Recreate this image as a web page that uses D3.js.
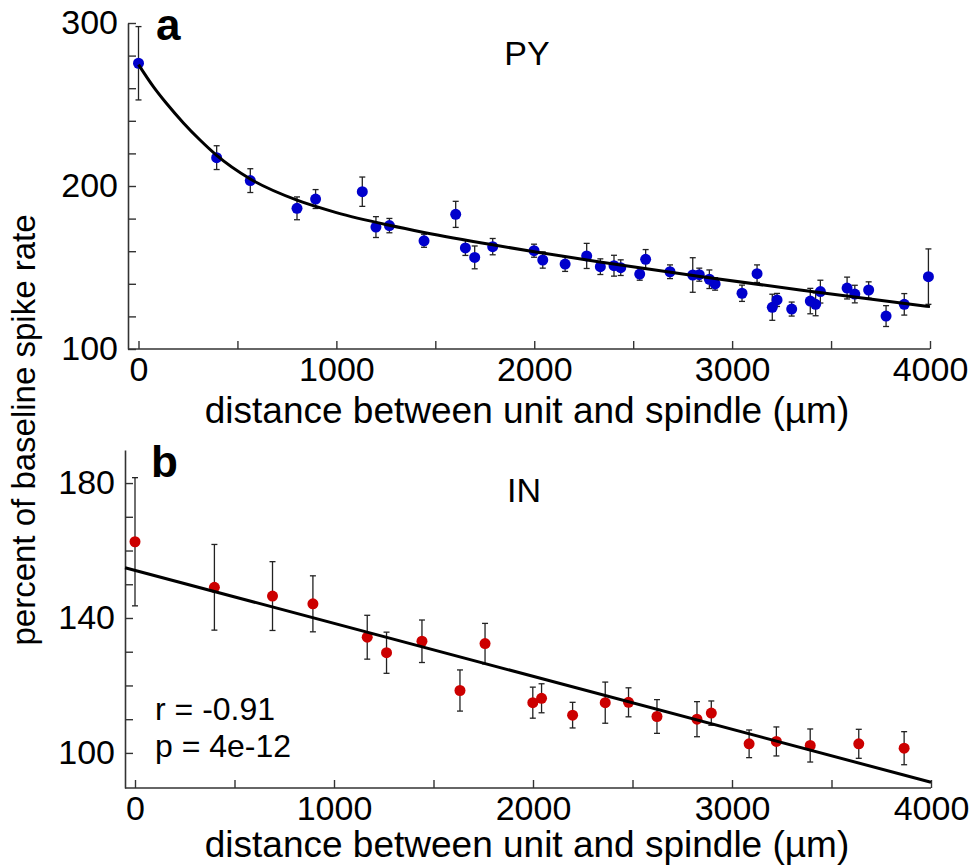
<!DOCTYPE html>
<html>
<head>
<meta charset="utf-8">
<script src="https://cdn.jsdelivr.net/npm/d3@7.9.0/dist/d3.min.js"></script>
<style>
  body { margin: 0; background: #fff; }
  svg { display: block; }
  text { font-family: "Liberation Sans", Arial, sans-serif; fill: #000; }
</style>
</head>
<body>
<svg id="chart" width="976" height="867"></svg>
<script>
// panel a: pyramidal units
const pyDistance = [0, 395, 565, 801, 895, 1131, 1200, 1268, 1443, 1603, 1652, 1699, 1790, 1999, 2043,
  2156, 2265, 2334, 2403, 2437, 2533, 2563, 2686, 2801, 2834, 2885, 2914, 3050, 3126, 3203, 3227,
  3301, 3395, 3422, 3446, 3581, 3620, 3690, 3778, 3870, 3992];
const pyRate = [275.3, 217.4, 203.3, 186.3, 192.0, 196.5, 174.8, 175.7, 166.4, 182.6, 162.0, 156.2, 162.8, 160.3, 154.6,
  152.1, 157.1, 150.5, 151.1, 149.9, 146.0, 155.0, 147.4, 145.4, 145.6, 142.8, 139.9, 134.2, 146.2, 125.6, 130.1,
  124.5, 129.4, 127.4, 135.2, 137.4, 133.7, 136.2, 120.2, 127.4, 144.4];
const pyErr = [22.5, 7.3, 7.3, 7.0, 5.8, 9.0, 6.4, 4.4, 4.0, 8.0, 4.6, 7.0, 5.0, 4.0, 5.0,
  4.5, 7.7, 4.8, 6.4, 4.8, 3.8, 6.0, 4.2, 10.6, 4.0, 5.7, 3.8, 5.0, 5.4, 8.0, 4.0,
  4.3, 7.8, 7.0, 7.0, 6.7, 5.4, 5.0, 6.4, 6.6, 17.0];
// fitted curve
const pyFitDistance = [0, 75, 142, 227, 311, 395, 565, 801, 1000, 1268, 1443, 1790, 2000, 2332, 2838, 3343, 4000];
const pyFitRate = [274.5, 261.0, 250.6, 238.7, 228.2, 218.8, 204.3, 191.3, 183.7, 175.9, 171.5, 163.9, 159.7, 153.4, 144.5, 136.2, 126.0];

// panel b: interneurons
const inDistance = [0, 399, 691, 894, 1167, 1264, 1442, 1633, 1759, 1999, 2043, 2199, 2363, 2480, 2623,
  2824, 2896, 3086, 3223, 3393, 3637, 3865];
const inRate = [162.6, 149.1, 146.5, 144.2, 134.3, 129.7, 133.1, 118.5, 132.4, 114.9, 116.2, 111.2, 114.9, 115.0, 110.8,
  110.0, 111.8, 102.7, 103.4, 102.2, 102.7, 101.4];
const inErr = [19.0, 12.7, 10.2, 8.3, 6.5, 6.1, 6.3, 6.1, 6.0, 4.6, 4.3, 3.8, 6.1, 4.3, 5.0,
  5.2, 3.6, 4.1, 4.3, 4.9, 4.3, 4.9];
const inFitDistance = [-50, 4000];
const inFitRate = [154.9, 91.3];

const xTicks = [0, 500, 1000, 1500, 2000, 2500, 3000, 3500, 4000];
const xTickLabels = ['0', '', '1000', '', '2000', '', '3000', '', '4000'];
const pyYTicks = [100, 120, 140, 160, 180, 200, 220, 240, 260, 280, 300];
const pyYTickLabels = ['100', '', '', '', '', '200', '', '', '', '', '300'];
const inYTicks = [100, 110, 120, 130, 140, 150, 160, 170, 180];
const inYTickLabels = ['100', '', '', '', '140', '', '', '', '180'];

const svg = d3.select('#chart');
const axisColor = '#333';

function drawPanel(cfg) {
  const g = svg.append('g');
  const x = d3.scaleLinear().domain([0, 4000]).range(cfg.xRange);
  const y = d3.scaleLinear().domain(cfg.yDomain).range(cfg.yRange);

  // y axis
  const yAxis = g.append('g')
    .attr('transform', `translate(${cfg.axisX},0)`)
    .call(d3.axisLeft(y)
      .tickValues(cfg.yTicks)
      .tickFormat((d, i) => cfg.yTickLabels[i])
      .tickSizeInner(-8)
      .tickSizeOuter(0)
      .tickPadding(10));

  // x axis
  const xAxis = g.append('g')
    .attr('transform', `translate(0,${cfg.yRange[0]})`)
    .call(d3.axisBottom(x)
      .tickValues(xTicks)
      .tickFormat((d, i) => xTickLabels[i])
      .tickSizeInner(-8)
      .tickSizeOuter(0)
      .tickPadding(8));
  xAxis.select('.domain').remove();
  xAxis.append('line')
    .attr('x1', cfg.axisX).attr('x2', x(4000))
    .attr('y1', 0).attr('y2', 0)
    .attr('stroke', axisColor).attr('stroke-width', 1.6);

  [yAxis, xAxis].forEach((ax) => {
    ax.selectAll('.domain').attr('stroke', axisColor).attr('stroke-width', 1.6);
    ax.selectAll('.tick line').attr('stroke', axisColor).attr('stroke-width', 1.4);
    ax.selectAll('.tick text')
      .attr('fill', '#000')
      .style('font-size', '34px')
      .style('font-family', '"Liberation Sans", Arial, sans-serif');
  });

  // error bars
  const bars = g.append('g').attr('stroke', '#222').attr('stroke-width', 1.3);
  cfg.xs.forEach((d, i) => {
    const cx = x(d);
    const top = y(cfg.ys[i] + cfg.errs[i]);
    const bot = y(cfg.ys[i] - cfg.errs[i]);
    bars.append('line').attr('x1', cx).attr('x2', cx).attr('y1', top).attr('y2', bot);
    bars.append('line').attr('x1', cx - 3).attr('x2', cx + 3).attr('y1', top).attr('y2', top);
    bars.append('line').attr('x1', cx - 3).attr('x2', cx + 3).attr('y1', bot).attr('y2', bot);
  });

  // points
  g.append('g')
    .selectAll('circle')
    .data(cfg.xs)
    .join('circle')
    .attr('cx', (d) => x(d))
    .attr('cy', (d, i) => y(cfg.ys[i]))
    .attr('r', 5.5)
    .attr('fill', cfg.color);

  // fit
  const line = d3.line()
    .x((d) => x(d[0]))
    .y((d) => y(d[1]))
    .curve(d3.curveMonotoneX);
  g.append('path')
    .datum(cfg.fitX.map((d, i) => [d, cfg.fitY[i]]))
    .attr('d', line)
    .attr('fill', 'none')
    .attr('stroke', '#000')
    .attr('stroke-width', 3);

  // x label
  g.append('text')
    .attr('x', 527)
    .attr('y', cfg.xLabelY)
    .attr('text-anchor', 'middle')
    .style('font-size', '37px')
    .text('distance between unit and spindle (µm)');

  return { g, x, y };
}

const a = drawPanel({
  xRange: [138.5, 930], yDomain: [100, 300], yRange: [349, 23], axisX: 128,
  yTicks: pyYTicks, yTickLabels: pyYTickLabels,
  xs: pyDistance, ys: pyRate, errs: pyErr, color: '#0000cc',
  fitX: pyFitDistance, fitY: pyFitRate, xLabelY: 423
});

const b = drawPanel({
  xRange: [135, 931], yDomain: [89.6, 189.8], yRange: [788, 450], axisX: 125,
  yTicks: inYTicks, yTickLabels: inYTickLabels,
  xs: inDistance, ys: inRate, errs: inErr, color: '#cc0000',
  fitX: inFitDistance, fitY: inFitRate, xLabelY: 857
});

// panel letters and titles
svg.append('text').attr('x', 156).attr('y', 40)
  .style('font-size', '44px').style('font-weight', 'bold').text('a');
svg.append('text').attr('x', 527).attr('y', 65).attr('text-anchor', 'middle')
  .style('font-size', '34px').text('PY');
svg.append('text').attr('x', 151).attr('y', 477)
  .style('font-size', '44px').style('font-weight', 'bold').text('b');
svg.append('text').attr('x', 524).attr('y', 502).attr('text-anchor', 'middle')
  .style('font-size', '34px').text('IN');

svg.append('text').attr('x', 155).attr('y', 720)
  .style('font-size', '32px').text('r = -0.91');
svg.append('text').attr('x', 155).attr('y', 757)
  .style('font-size', '32px').text('p = 4e-12');

// shared y label
svg.append('text')
  .attr('transform', 'translate(35,430) rotate(-90)')
  .attr('text-anchor', 'middle')
  .style('font-size', '33px')
  .text('percent of baseline spike rate');
</script>
</body>
</html>
